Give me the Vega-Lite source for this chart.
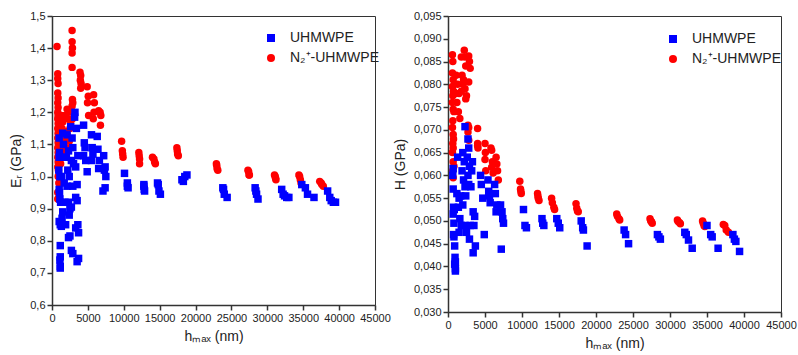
{
"$schema": "https://vega.github.io/schema/vega-lite/v6.json",
"padding": {"left": 9, "top": 9, "right": 5, "bottom": 0},
"background": "white",
"spacing": 73,
"bounds": "flush",
"datasets": {
"er": [
{"h":700,"v":1.405,"s":"N₂⁺-UHMWPE"},{"h":800,"v":1.32,"s":"N₂⁺-UHMWPE"},{"h":800,"v":1.305,"s":"N₂⁺-UHMWPE"},{"h":850,"v":1.29,"s":"N₂⁺-UHMWPE"},{"h":800,"v":1.26,"s":"N₂⁺-UHMWPE"},{"h":850,"v":1.245,"s":"N₂⁺-UHMWPE"},{"h":800,"v":1.23,"s":"N₂⁺-UHMWPE"},{"h":850,"v":1.215,"s":"N₂⁺-UHMWPE"},{"h":800,"v":1.2,"s":"N₂⁺-UHMWPE"},{"h":850,"v":1.19,"s":"N₂⁺-UHMWPE"},{"h":800,"v":1.18,"s":"N₂⁺-UHMWPE"},{"h":850,"v":1.165,"s":"N₂⁺-UHMWPE"},{"h":800,"v":1.15,"s":"N₂⁺-UHMWPE"},{"h":850,"v":1.135,"s":"N₂⁺-UHMWPE"},{"h":800,"v":1.12,"s":"N₂⁺-UHMWPE"},{"h":850,"v":1.105,"s":"N₂⁺-UHMWPE"},{"h":800,"v":1.09,"s":"N₂⁺-UHMWPE"},{"h":850,"v":1.075,"s":"N₂⁺-UHMWPE"},{"h":800,"v":1.06,"s":"N₂⁺-UHMWPE"},{"h":850,"v":1.045,"s":"N₂⁺-UHMWPE"},{"h":800,"v":1.03,"s":"N₂⁺-UHMWPE"},{"h":900,"v":1.02,"s":"N₂⁺-UHMWPE"},{"h":850,"v":1.0,"s":"N₂⁺-UHMWPE"},{"h":950,"v":0.98,"s":"N₂⁺-UHMWPE"},{"h":800,"v":0.95,"s":"N₂⁺-UHMWPE"},{"h":800,"v":0.93,"s":"N₂⁺-UHMWPE"},
{"h":1300,"v":1.19,"s":"N₂⁺-UHMWPE"},{"h":1500,"v":1.17,"s":"N₂⁺-UHMWPE"},{"h":1400,"v":1.15,"s":"N₂⁺-UHMWPE"},{"h":1600,"v":1.12,"s":"N₂⁺-UHMWPE"},{"h":1300,"v":1.1,"s":"N₂⁺-UHMWPE"},{"h":1700,"v":1.08,"s":"N₂⁺-UHMWPE"},{"h":1400,"v":1.06,"s":"N₂⁺-UHMWPE"},{"h":1200,"v":1.04,"s":"N₂⁺-UHMWPE"},{"h":1800,"v":1.19,"s":"N₂⁺-UHMWPE"},{"h":1900,"v":1.14,"s":"N₂⁺-UHMWPE"},
{"h":2100,"v":1.21,"s":"N₂⁺-UHMWPE"},{"h":2300,"v":1.2,"s":"N₂⁺-UHMWPE"},{"h":2200,"v":1.18,"s":"N₂⁺-UHMWPE"},{"h":2500,"v":1.15,"s":"N₂⁺-UHMWPE"},{"h":2100,"v":1.13,"s":"N₂⁺-UHMWPE"},{"h":2400,"v":1.11,"s":"N₂⁺-UHMWPE"},{"h":2000,"v":1.09,"s":"N₂⁺-UHMWPE"},{"h":2600,"v":1.17,"s":"N₂⁺-UHMWPE"},
{"h":2800,"v":1.455,"s":"N₂⁺-UHMWPE"},{"h":2800,"v":1.42,"s":"N₂⁺-UHMWPE"},{"h":2850,"v":1.4,"s":"N₂⁺-UHMWPE"},{"h":2800,"v":1.385,"s":"N₂⁺-UHMWPE"},{"h":2800,"v":1.34,"s":"N₂⁺-UHMWPE"},{"h":2850,"v":1.24,"s":"N₂⁺-UHMWPE"},{"h":2900,"v":1.23,"s":"N₂⁺-UHMWPE"},{"h":2800,"v":1.22,"s":"N₂⁺-UHMWPE"},{"h":2900,"v":1.2,"s":"N₂⁺-UHMWPE"},{"h":2850,"v":1.18,"s":"N₂⁺-UHMWPE"},
{"h":3900,"v":1.325,"s":"N₂⁺-UHMWPE"},{"h":4000,"v":1.315,"s":"N₂⁺-UHMWPE"},{"h":3950,"v":1.3,"s":"N₂⁺-UHMWPE"},{"h":4050,"v":1.29,"s":"N₂⁺-UHMWPE"},{"h":4000,"v":1.275,"s":"N₂⁺-UHMWPE"},
{"h":4900,"v":1.28,"s":"N₂⁺-UHMWPE"},{"h":5050,"v":1.25,"s":"N₂⁺-UHMWPE"},{"h":4950,"v":1.23,"s":"N₂⁺-UHMWPE"},{"h":5100,"v":1.19,"s":"N₂⁺-UHMWPE"},
{"h":5800,"v":1.255,"s":"N₂⁺-UHMWPE"},{"h":5900,"v":1.23,"s":"N₂⁺-UHMWPE"},{"h":5850,"v":1.2,"s":"N₂⁺-UHMWPE"},{"h":5750,"v":1.18,"s":"N₂⁺-UHMWPE"},
{"h":6500,"v":1.205,"s":"N₂⁺-UHMWPE"},{"h":6700,"v":1.2,"s":"N₂⁺-UHMWPE"},{"h":6800,"v":1.19,"s":"N₂⁺-UHMWPE"},{"h":6750,"v":1.16,"s":"N₂⁺-UHMWPE"},
{"h":9700,"v":1.11,"s":"N₂⁺-UHMWPE"},{"h":9800,"v":1.08,"s":"N₂⁺-UHMWPE"},{"h":9850,"v":1.07,"s":"N₂⁺-UHMWPE"},{"h":9900,"v":1.06,"s":"N₂⁺-UHMWPE"},
{"h":12100,"v":1.075,"s":"N₂⁺-UHMWPE"},{"h":12150,"v":1.065,"s":"N₂⁺-UHMWPE"},{"h":12200,"v":1.055,"s":"N₂⁺-UHMWPE"},{"h":12200,"v":1.04,"s":"N₂⁺-UHMWPE"},
{"h":14000,"v":1.06,"s":"N₂⁺-UHMWPE"},{"h":14200,"v":1.055,"s":"N₂⁺-UHMWPE"},{"h":14300,"v":1.045,"s":"N₂⁺-UHMWPE"},{"h":14400,"v":1.04,"s":"N₂⁺-UHMWPE"},
{"h":17400,"v":1.09,"s":"N₂⁺-UHMWPE"},{"h":17450,"v":1.08,"s":"N₂⁺-UHMWPE"},{"h":17500,"v":1.07,"s":"N₂⁺-UHMWPE"},{"h":17600,"v":1.065,"s":"N₂⁺-UHMWPE"},
{"h":22900,"v":1.04,"s":"N₂⁺-UHMWPE"},{"h":22950,"v":1.035,"s":"N₂⁺-UHMWPE"},{"h":23000,"v":1.025,"s":"N₂⁺-UHMWPE"},{"h":23100,"v":1.02,"s":"N₂⁺-UHMWPE"},
{"h":27300,"v":1.02,"s":"N₂⁺-UHMWPE"},{"h":27400,"v":1.015,"s":"N₂⁺-UHMWPE"},{"h":27450,"v":1.005,"s":"N₂⁺-UHMWPE"},{"h":27500,"v":1.005,"s":"N₂⁺-UHMWPE"},
{"h":31000,"v":1.005,"s":"N₂⁺-UHMWPE"},{"h":31100,"v":1.0,"s":"N₂⁺-UHMWPE"},{"h":31150,"v":0.995,"s":"N₂⁺-UHMWPE"},{"h":31200,"v":0.99,"s":"N₂⁺-UHMWPE"},
{"h":34400,"v":1.005,"s":"N₂⁺-UHMWPE"},{"h":34500,"v":1.0,"s":"N₂⁺-UHMWPE"},{"h":34600,"v":0.99,"s":"N₂⁺-UHMWPE"},{"h":34700,"v":0.98,"s":"N₂⁺-UHMWPE"},
{"h":37300,"v":0.985,"s":"N₂⁺-UHMWPE"},{"h":37500,"v":0.98,"s":"N₂⁺-UHMWPE"},{"h":37600,"v":0.975,"s":"N₂⁺-UHMWPE"},{"h":37800,"v":0.97,"s":"N₂⁺-UHMWPE"},
{"h":1000,"v":1.12,"s":"UHMWPE"},{"h":1050,"v":1.075,"s":"UHMWPE"},{"h":1000,"v":1.06,"s":"UHMWPE"},{"h":950,"v":1.02,"s":"UHMWPE"},{"h":1100,"v":1.0,"s":"UHMWPE"},{"h":1000,"v":0.96,"s":"UHMWPE"},{"h":1050,"v":0.95,"s":"UHMWPE"},{"h":1100,"v":0.93,"s":"UHMWPE"},{"h":1200,"v":0.92,"s":"UHMWPE"},{"h":1000,"v":0.86,"s":"UHMWPE"},{"h":1150,"v":0.85,"s":"UHMWPE"},{"h":1150,"v":0.785,"s":"UHMWPE"},{"h":1150,"v":0.75,"s":"UHMWPE"},{"h":1100,"v":0.74,"s":"UHMWPE"},{"h":1150,"v":0.72,"s":"UHMWPE"},{"h":1150,"v":0.715,"s":"UHMWPE"},
{"h":1500,"v":1.135,"s":"UHMWPE"},{"h":1600,"v":1.1,"s":"UHMWPE"},{"h":1400,"v":1.06,"s":"UHMWPE"},{"h":1300,"v":1.0,"s":"UHMWPE"},{"h":1700,"v":0.98,"s":"UHMWPE"},{"h":1800,"v":0.92,"s":"UHMWPE"},{"h":1500,"v":0.89,"s":"UHMWPE"},{"h":1400,"v":0.87,"s":"UHMWPE"},{"h":1900,"v":0.85,"s":"UHMWPE"},{"h":1300,"v":0.845,"s":"UHMWPE"},
{"h":2100,"v":1.13,"s":"UHMWPE"},{"h":2300,"v":1.08,"s":"UHMWPE"},{"h":2000,"v":1.06,"s":"UHMWPE"},{"h":2200,"v":1.02,"s":"UHMWPE"},{"h":2400,"v":1.0,"s":"UHMWPE"},{"h":2100,"v":0.97,"s":"UHMWPE"},{"h":2300,"v":0.92,"s":"UHMWPE"},{"h":2500,"v":0.9,"s":"UHMWPE"},{"h":2400,"v":0.88,"s":"UHMWPE"},{"h":2300,"v":0.81,"s":"UHMWPE"},{"h":2500,"v":0.815,"s":"UHMWPE"},
{"h":2600,"v":1.155,"s":"UHMWPE"},{"h":2800,"v":1.12,"s":"UHMWPE"},{"h":2900,"v":1.09,"s":"UHMWPE"},{"h":2700,"v":1.05,"s":"UHMWPE"},{"h":3000,"v":1.04,"s":"UHMWPE"},{"h":2900,"v":0.97,"s":"UHMWPE"},{"h":2700,"v":0.905,"s":"UHMWPE"},{"h":2700,"v":0.77,"s":"UHMWPE"},{"h":2900,"v":0.76,"s":"UHMWPE"},
{"h":3200,"v":1.2,"s":"UHMWPE"},{"h":3150,"v":1.185,"s":"UHMWPE"},{"h":3400,"v":1.15,"s":"UHMWPE"},{"h":3600,"v":1.065,"s":"UHMWPE"},{"h":3300,"v":1.03,"s":"UHMWPE"},{"h":3500,"v":0.975,"s":"UHMWPE"},{"h":3300,"v":0.935,"s":"UHMWPE"},{"h":3500,"v":0.925,"s":"UHMWPE"},{"h":3600,"v":0.85,"s":"UHMWPE"},{"h":3300,"v":0.84,"s":"UHMWPE"},{"h":3700,"v":0.825,"s":"UHMWPE"},{"h":3700,"v":0.745,"s":"UHMWPE"},{"h":3500,"v":0.735,"s":"UHMWPE"},
{"h":4400,"v":1.16,"s":"UHMWPE"},{"h":4500,"v":1.105,"s":"UHMWPE"},{"h":4600,"v":1.09,"s":"UHMWPE"},{"h":4400,"v":1.065,"s":"UHMWPE"},{"h":4700,"v":1.05,"s":"UHMWPE"},{"h":4900,"v":1.015,"s":"UHMWPE"},
{"h":5500,"v":1.13,"s":"UHMWPE"},{"h":5600,"v":1.09,"s":"UHMWPE"},{"h":5700,"v":1.07,"s":"UHMWPE"},{"h":5500,"v":1.05,"s":"UHMWPE"},
{"h":6300,"v":1.125,"s":"UHMWPE"},{"h":6400,"v":1.085,"s":"UHMWPE"},{"h":6600,"v":1.05,"s":"UHMWPE"},{"h":6500,"v":1.025,"s":"UHMWPE"},
{"h":7200,"v":1.065,"s":"UHMWPE"},{"h":7400,"v":1.03,"s":"UHMWPE"},{"h":7300,"v":1.02,"s":"UHMWPE"},{"h":7500,"v":1.0,"s":"UHMWPE"},{"h":7400,"v":0.965,"s":"UHMWPE"},{"h":7100,"v":0.955,"s":"UHMWPE"},
{"h":10100,"v":1.01,"s":"UHMWPE"},{"h":10500,"v":0.98,"s":"UHMWPE"},{"h":10500,"v":0.97,"s":"UHMWPE"},{"h":10600,"v":0.965,"s":"UHMWPE"},
{"h":12800,"v":0.975,"s":"UHMWPE"},{"h":12800,"v":0.97,"s":"UHMWPE"},{"h":12850,"v":0.96,"s":"UHMWPE"},{"h":12900,"v":0.955,"s":"UHMWPE"},
{"h":14700,"v":0.98,"s":"UHMWPE"},{"h":14800,"v":0.975,"s":"UHMWPE"},{"h":14900,"v":0.955,"s":"UHMWPE"},{"h":15100,"v":0.945,"s":"UHMWPE"},
{"h":18100,"v":0.99,"s":"UHMWPE"},{"h":18300,"v":0.985,"s":"UHMWPE"},{"h":18500,"v":1.0,"s":"UHMWPE"},{"h":18800,"v":1.005,"s":"UHMWPE"},
{"h":23800,"v":0.965,"s":"UHMWPE"},{"h":23900,"v":0.96,"s":"UHMWPE"},{"h":24000,"v":0.945,"s":"UHMWPE"},{"h":24400,"v":0.935,"s":"UHMWPE"},
{"h":28300,"v":0.965,"s":"UHMWPE"},{"h":28400,"v":0.955,"s":"UHMWPE"},{"h":28500,"v":0.945,"s":"UHMWPE"},{"h":28700,"v":0.93,"s":"UHMWPE"},
{"h":32000,"v":0.96,"s":"UHMWPE"},{"h":32200,"v":0.945,"s":"UHMWPE"},{"h":32400,"v":0.94,"s":"UHMWPE"},{"h":32700,"v":0.935,"s":"UHMWPE"},{"h":33000,"v":0.935,"s":"UHMWPE"},
{"h":34800,"v":0.975,"s":"UHMWPE"},{"h":35300,"v":0.965,"s":"UHMWPE"},{"h":35600,"v":0.945,"s":"UHMWPE"},{"h":36500,"v":0.935,"s":"UHMWPE"},
{"h":38400,"v":0.955,"s":"UHMWPE"},{"h":38700,"v":0.935,"s":"UHMWPE"},{"h":38900,"v":0.925,"s":"UHMWPE"},{"h":39200,"v":0.92,"s":"UHMWPE"},{"h":39500,"v":0.92,"s":"UHMWPE"}
],
"hd": [
{"h":600,"v":0.0865,"s":"N₂⁺-UHMWPE"},{"h":650,"v":0.085,"s":"N₂⁺-UHMWPE"},{"h":600,"v":0.0825,"s":"N₂⁺-UHMWPE"},{"h":700,"v":0.081,"s":"N₂⁺-UHMWPE"},{"h":600,"v":0.0795,"s":"N₂⁺-UHMWPE"},{"h":650,"v":0.0775,"s":"N₂⁺-UHMWPE"},{"h":600,"v":0.076,"s":"N₂⁺-UHMWPE"},{"h":700,"v":0.0745,"s":"N₂⁺-UHMWPE"},{"h":650,"v":0.072,"s":"N₂⁺-UHMWPE"},{"h":600,"v":0.0705,"s":"N₂⁺-UHMWPE"},{"h":700,"v":0.069,"s":"N₂⁺-UHMWPE"},{"h":650,"v":0.067,"s":"N₂⁺-UHMWPE"},{"h":600,"v":0.065,"s":"N₂⁺-UHMWPE"},{"h":700,"v":0.063,"s":"N₂⁺-UHMWPE"},{"h":650,"v":0.061,"s":"N₂⁺-UHMWPE"},{"h":700,"v":0.0595,"s":"N₂⁺-UHMWPE"},{"h":750,"v":0.0785,"s":"N₂⁺-UHMWPE"},{"h":800,"v":0.074,"s":"N₂⁺-UHMWPE"},{"h":750,"v":0.068,"s":"N₂⁺-UHMWPE"},{"h":700,"v":0.066,"s":"N₂⁺-UHMWPE"},{"h":800,"v":0.062,"s":"N₂⁺-UHMWPE"},
{"h":1100,"v":0.082,"s":"N₂⁺-UHMWPE"},{"h":1300,"v":0.08,"s":"N₂⁺-UHMWPE"},{"h":1500,"v":0.078,"s":"N₂⁺-UHMWPE"},{"h":1200,"v":0.076,"s":"N₂⁺-UHMWPE"},{"h":1400,"v":0.074,"s":"N₂⁺-UHMWPE"},{"h":1600,"v":0.0725,"s":"N₂⁺-UHMWPE"},{"h":1000,"v":0.078,"s":"N₂⁺-UHMWPE"},
{"h":1800,"v":0.086,"s":"N₂⁺-UHMWPE"},{"h":1900,"v":0.082,"s":"N₂⁺-UHMWPE"},{"h":2000,"v":0.08,"s":"N₂⁺-UHMWPE"},{"h":1800,"v":0.0785,"s":"N₂⁺-UHMWPE"},
{"h":2200,"v":0.0875,"s":"N₂⁺-UHMWPE"},{"h":2300,"v":0.086,"s":"N₂⁺-UHMWPE"},{"h":2400,"v":0.084,"s":"N₂⁺-UHMWPE"},{"h":2100,"v":0.081,"s":"N₂⁺-UHMWPE"},{"h":2300,"v":0.079,"s":"N₂⁺-UHMWPE"},{"h":2500,"v":0.0775,"s":"N₂⁺-UHMWPE"},{"h":2400,"v":0.0768,"s":"N₂⁺-UHMWPE"},
{"h":2800,"v":0.0862,"s":"N₂⁺-UHMWPE"},{"h":2900,"v":0.085,"s":"N₂⁺-UHMWPE"},{"h":3000,"v":0.0835,"s":"N₂⁺-UHMWPE"},{"h":2800,"v":0.0805,"s":"N₂⁺-UHMWPE"},{"h":2700,"v":0.071,"s":"N₂⁺-UHMWPE"},{"h":2800,"v":0.0705,"s":"N₂⁺-UHMWPE"},{"h":2700,"v":0.0695,"s":"N₂⁺-UHMWPE"},{"h":2800,"v":0.0677,"s":"N₂⁺-UHMWPE"},
{"h":4000,"v":0.0703,"s":"N₂⁺-UHMWPE"},{"h":4000,"v":0.067,"s":"N₂⁺-UHMWPE"},{"h":4050,"v":0.066,"s":"N₂⁺-UHMWPE"},{"h":4000,"v":0.0665,"s":"N₂⁺-UHMWPE"},
{"h":5000,"v":0.067,"s":"N₂⁺-UHMWPE"},{"h":5050,"v":0.065,"s":"N₂⁺-UHMWPE"},{"h":5000,"v":0.0635,"s":"N₂⁺-UHMWPE"},{"h":5100,"v":0.061,"s":"N₂⁺-UHMWPE"},
{"h":5800,"v":0.066,"s":"N₂⁺-UHMWPE"},{"h":5900,"v":0.0655,"s":"N₂⁺-UHMWPE"},{"h":6000,"v":0.063,"s":"N₂⁺-UHMWPE"},{"h":5900,"v":0.0618,"s":"N₂⁺-UHMWPE"},{"h":6100,"v":0.0605,"s":"N₂⁺-UHMWPE"},
{"h":6500,"v":0.064,"s":"N₂⁺-UHMWPE"},{"h":6600,"v":0.0625,"s":"N₂⁺-UHMWPE"},{"h":6700,"v":0.061,"s":"N₂⁺-UHMWPE"},{"h":6800,"v":0.059,"s":"N₂⁺-UHMWPE"},
{"h":9700,"v":0.0587,"s":"N₂⁺-UHMWPE"},{"h":9800,"v":0.057,"s":"N₂⁺-UHMWPE"},{"h":9850,"v":0.0565,"s":"N₂⁺-UHMWPE"},{"h":9900,"v":0.056,"s":"N₂⁺-UHMWPE"},
{"h":12100,"v":0.056,"s":"N₂⁺-UHMWPE"},{"h":12150,"v":0.0555,"s":"N₂⁺-UHMWPE"},{"h":12200,"v":0.055,"s":"N₂⁺-UHMWPE"},{"h":12300,"v":0.0545,"s":"N₂⁺-UHMWPE"},
{"h":14000,"v":0.055,"s":"N₂⁺-UHMWPE"},{"h":14100,"v":0.054,"s":"N₂⁺-UHMWPE"},{"h":14300,"v":0.053,"s":"N₂⁺-UHMWPE"},{"h":14400,"v":0.0525,"s":"N₂⁺-UHMWPE"},
{"h":17300,"v":0.0538,"s":"N₂⁺-UHMWPE"},{"h":17400,"v":0.0528,"s":"N₂⁺-UHMWPE"},{"h":17500,"v":0.0522,"s":"N₂⁺-UHMWPE"},{"h":17600,"v":0.052,"s":"N₂⁺-UHMWPE"},
{"h":22800,"v":0.0515,"s":"N₂⁺-UHMWPE"},{"h":22900,"v":0.051,"s":"N₂⁺-UHMWPE"},{"h":23100,"v":0.0505,"s":"N₂⁺-UHMWPE"},{"h":23200,"v":0.0502,"s":"N₂⁺-UHMWPE"},
{"h":27300,"v":0.0505,"s":"N₂⁺-UHMWPE"},{"h":27400,"v":0.05,"s":"N₂⁺-UHMWPE"},{"h":27500,"v":0.0498,"s":"N₂⁺-UHMWPE"},{"h":27600,"v":0.0495,"s":"N₂⁺-UHMWPE"},
{"h":31000,"v":0.0502,"s":"N₂⁺-UHMWPE"},{"h":31100,"v":0.0499,"s":"N₂⁺-UHMWPE"},{"h":31300,"v":0.0496,"s":"N₂⁺-UHMWPE"},{"h":31400,"v":0.0494,"s":"N₂⁺-UHMWPE"},
{"h":34400,"v":0.05,"s":"N₂⁺-UHMWPE"},{"h":34500,"v":0.0495,"s":"N₂⁺-UHMWPE"},{"h":34600,"v":0.049,"s":"N₂⁺-UHMWPE"},{"h":34700,"v":0.0488,"s":"N₂⁺-UHMWPE"},
{"h":37200,"v":0.0492,"s":"N₂⁺-UHMWPE"},{"h":37400,"v":0.049,"s":"N₂⁺-UHMWPE"},{"h":37600,"v":0.048,"s":"N₂⁺-UHMWPE"},{"h":37900,"v":0.0475,"s":"N₂⁺-UHMWPE"},
{"h":700,"v":0.0615,"s":"UHMWPE"},{"h":650,"v":0.06,"s":"UHMWPE"},{"h":700,"v":0.057,"s":"UHMWPE"},{"h":750,"v":0.053,"s":"UHMWPE"},{"h":700,"v":0.0515,"s":"UHMWPE"},{"h":800,"v":0.0495,"s":"UHMWPE"},{"h":750,"v":0.047,"s":"UHMWPE"},{"h":800,"v":0.0465,"s":"UHMWPE"},{"h":900,"v":0.0445,"s":"UHMWPE"},{"h":950,"v":0.042,"s":"UHMWPE"},{"h":1000,"v":0.041,"s":"UHMWPE"},{"h":1000,"v":0.0395,"s":"UHMWPE"},{"h":1000,"v":0.039,"s":"UHMWPE"},{"h":900,"v":0.0405,"s":"UHMWPE"},{"h":850,"v":0.0525,"s":"UHMWPE"},
{"h":1300,"v":0.064,"s":"UHMWPE"},{"h":1200,"v":0.056,"s":"UHMWPE"},{"h":1500,"v":0.055,"s":"UHMWPE"},{"h":1400,"v":0.053,"s":"UHMWPE"},{"h":1600,"v":0.0505,"s":"UHMWPE"},{"h":1800,"v":0.049,"s":"UHMWPE"},{"h":1500,"v":0.0475,"s":"UHMWPE"},{"h":1700,"v":0.0555,"s":"UHMWPE"},
{"h":2000,"v":0.065,"s":"UHMWPE"},{"h":2200,"v":0.063,"s":"UHMWPE"},{"h":1900,"v":0.061,"s":"UHMWPE"},{"h":2100,"v":0.059,"s":"UHMWPE"},{"h":2300,"v":0.0575,"s":"UHMWPE"},{"h":2400,"v":0.0555,"s":"UHMWPE"},{"h":2000,"v":0.0535,"s":"UHMWPE"},{"h":2300,"v":0.049,"s":"UHMWPE"},{"h":2500,"v":0.0475,"s":"UHMWPE"},
{"h":2300,"v":0.0707,"s":"UHMWPE"},
{"h":2700,"v":0.068,"s":"UHMWPE"},{"h":2800,"v":0.066,"s":"UHMWPE"},{"h":2600,"v":0.064,"s":"UHMWPE"},{"h":2900,"v":0.062,"s":"UHMWPE"},{"h":2700,"v":0.06,"s":"UHMWPE"},{"h":2800,"v":0.058,"s":"UHMWPE"},{"h":3000,"v":0.049,"s":"UHMWPE"},{"h":2900,"v":0.046,"s":"UHMWPE"},
{"h":3300,"v":0.063,"s":"UHMWPE"},{"h":3200,"v":0.061,"s":"UHMWPE"},{"h":3100,"v":0.0575,"s":"UHMWPE"},{"h":3400,"v":0.052,"s":"UHMWPE"},{"h":3600,"v":0.051,"s":"UHMWPE"},{"h":3500,"v":0.049,"s":"UHMWPE"},{"h":3700,"v":0.0445,"s":"UHMWPE"},{"h":3400,"v":0.043,"s":"UHMWPE"},
{"h":4400,"v":0.06,"s":"UHMWPE"},{"h":4500,"v":0.058,"s":"UHMWPE"},{"h":4700,"v":0.055,"s":"UHMWPE"},{"h":4900,"v":0.047,"s":"UHMWPE"},
{"h":5400,"v":0.059,"s":"UHMWPE"},{"h":5500,"v":0.0565,"s":"UHMWPE"},{"h":5600,"v":0.0555,"s":"UHMWPE"},{"h":5700,"v":0.054,"s":"UHMWPE"},
{"h":6300,"v":0.058,"s":"UHMWPE"},{"h":6400,"v":0.056,"s":"UHMWPE"},{"h":6600,"v":0.0535,"s":"UHMWPE"},{"h":6500,"v":0.052,"s":"UHMWPE"},
{"h":7100,"v":0.0535,"s":"UHMWPE"},{"h":7300,"v":0.052,"s":"UHMWPE"},{"h":7400,"v":0.0505,"s":"UHMWPE"},{"h":7500,"v":0.0495,"s":"UHMWPE"},{"h":7200,"v":0.0438,"s":"UHMWPE"},
{"h":10200,"v":0.0525,"s":"UHMWPE"},{"h":10400,"v":0.049,"s":"UHMWPE"},{"h":10600,"v":0.0485,"s":"UHMWPE"},
{"h":12700,"v":0.0505,"s":"UHMWPE"},{"h":12800,"v":0.0495,"s":"UHMWPE"},{"h":12950,"v":0.049,"s":"UHMWPE"},
{"h":14700,"v":0.0505,"s":"UHMWPE"},{"h":14900,"v":0.0495,"s":"UHMWPE"},{"h":15100,"v":0.0485,"s":"UHMWPE"},
{"h":18000,"v":0.05,"s":"UHMWPE"},{"h":18200,"v":0.0485,"s":"UHMWPE"},{"h":18300,"v":0.048,"s":"UHMWPE"},{"h":18800,"v":0.0445,"s":"UHMWPE"},
{"h":23800,"v":0.048,"s":"UHMWPE"},{"h":24000,"v":0.047,"s":"UHMWPE"},{"h":24400,"v":0.045,"s":"UHMWPE"},
{"h":28300,"v":0.047,"s":"UHMWPE"},{"h":28500,"v":0.0465,"s":"UHMWPE"},{"h":28700,"v":0.046,"s":"UHMWPE"},
{"h":32000,"v":0.0475,"s":"UHMWPE"},{"h":32200,"v":0.047,"s":"UHMWPE"},{"h":32500,"v":0.0458,"s":"UHMWPE"},{"h":33000,"v":0.044,"s":"UHMWPE"},
{"h":35000,"v":0.049,"s":"UHMWPE"},{"h":35500,"v":0.047,"s":"UHMWPE"},{"h":35700,"v":0.0465,"s":"UHMWPE"},{"h":36500,"v":0.044,"s":"UHMWPE"},
{"h":38500,"v":0.047,"s":"UHMWPE"},{"h":38700,"v":0.046,"s":"UHMWPE"},{"h":38900,"v":0.0455,"s":"UHMWPE"},{"h":39400,"v":0.0433,"s":"UHMWPE"}
]
},
"hconcat": [
{
"width": 323, "height": 289,
"data": {"name": "er"},
"mark": {"type": "point", "filled": true, "opacity": 1, "size": 56},
"encoding": {
"x": {"field": "h", "type": "quantitative", "scale": {"domain": [0, 45000], "nice": false},
"axis": {"title": "hₘₐₓ (nm)", "values": [0,5000,10000,15000,20000,25000,30000,35000,40000,45000], "format": "d", "labelOverlap": false, "labelFlush": false}},
"y": {"field": "v", "type": "quantitative", "scale": {"domain": [0.6, 1.5], "nice": false, "zero": false},
"axis": {"title": "Eᵣ (GPa)", "values": [0.6,0.7,0.8,0.9,1.0,1.1,1.2,1.3,1.4,1.5], "labelExpr": "replace(format(datum.value,'.1f'),'.',',')", "labelFlush": false}},
"color": {"field": "s", "type": "nominal", "scale": {"domain": ["UHMWPE", "N₂⁺-UHMWPE"], "range": ["#0000ff", "#ff0000"]},
"legend": {"title": null, "orient": "none", "legendX": 212, "legendY": 15}},
"shape": {"field": "s", "type": "nominal", "scale": {"domain": ["UHMWPE", "N₂⁺-UHMWPE"], "range": ["square", "circle"]},
"legend": {"title": null, "orient": "none", "legendX": 212, "legendY": 15}}
}
},
{
"width": 333, "height": 296,
"data": {"name": "hd"},
"mark": {"type": "point", "filled": true, "opacity": 1, "size": 56},
"encoding": {
"x": {"field": "h", "type": "quantitative", "scale": {"domain": [0, 45000], "nice": false},
"axis": {"title": "hₘₐₓ (nm)", "values": [0,5000,10000,15000,20000,25000,30000,35000,40000,45000], "format": "d", "labelOverlap": false, "labelFlush": false}},
"y": {"field": "v", "type": "quantitative", "scale": {"domain": [0.03, 0.095], "nice": false, "zero": false},
"axis": {"title": "H (GPa)", "values": [0.03,0.035,0.04,0.045,0.05,0.055,0.06,0.065,0.07,0.075,0.08,0.085,0.09,0.095], "labelExpr": "replace(format(datum.value,'.3f'),'.',',')", "labelFlush": false}},
"color": {"field": "s", "type": "nominal", "scale": {"domain": ["UHMWPE", "N₂⁺-UHMWPE"], "range": ["#0000ff", "#ff0000"]},
"legend": {"title": null, "orient": "none", "legendX": 218, "legendY": 16}},
"shape": {"field": "s", "type": "nominal", "scale": {"domain": ["UHMWPE", "N₂⁺-UHMWPE"], "range": ["square", "circle"]},
"legend": {"title": null, "orient": "none", "legendX": 218, "legendY": 16}}
}
}
],
"resolve": {"scale": {"color": "independent", "shape": "independent"}, "legend": {"color": "independent", "shape": "independent"}},
"config": {
"font": "Liberation Sans",
"view": {"stroke": "#333333", "strokeWidth": 1},
"axis": {"grid": false, "domainColor": "#333333", "domainWidth": 1.5, "tickColor": "#333333", "tickSize": 5, "tickWidth": 1.5,
"labelFont": "Liberation Sans", "labelFontSize": 11, "labelColor": "#222222", "labelPadding": 2,
"titleFont": "Liberation Sans", "titleFontSize": 14, "titleFontWeight": "normal", "titleColor": "#222222", "titlePadding": 6},
"legend": {"labelFont": "Liberation Sans", "labelFontSize": 14, "labelColor": "#222222", "symbolSize": 64, "labelOffset": 12, "rowPadding": 6, "padding": 0, "symbolStrokeWidth": 0}
}
}
